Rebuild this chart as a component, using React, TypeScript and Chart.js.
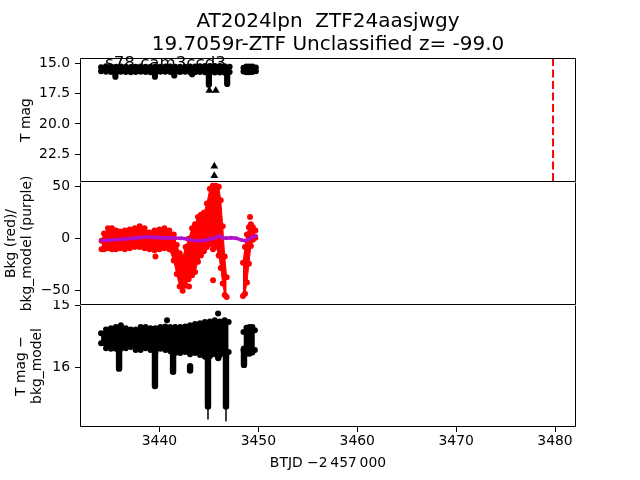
import React, { useEffect, useRef } from "react";
import { Chart, registerables } from "chart.js";

Chart.register(...registerables);

const FONT = "DejaVu Sans";

// ---------- text ----------
const TITLE_LINES = ["AT2024lpn  ZTF24aasjwgy", "19.7059r-ZTF Unclassified z= -99.0"];
const PANEL_LABEL = "s78 cam3ccd3";
const Y1_TITLE = "T mag";
const Y2_TITLE = ["Bkg (red)/", "bkg_model (purple)"];
const Y3_TITLE = ["T mag \u2212", "bkg_model"];
const X_TITLE = "BTJD \u22122\u2009457\u2009000";

// ---------- axes ----------
const X_RANGE = [3431.97, 3482.12];
const X_TICKS = [3440, 3450, 3460, 3470, 3480];
const Y1_RANGE = [14.56, 24.79];
const Y1_TICKS = [15, 17.5, 20, 22.5];
const Y2_RANGE = [-63.7, 54.6];
const Y2_TICKS = [-50, 0, 50];
const Y3_RANGE = [14.995, 16.96];
const Y3_TICKS = [15, 16];

// ---------- top panel: T mag ----------
const magBandTime = [3434.1, 3434.6, 3435.1, 3435.6, 3436.1, 3436.6, 3437.1, 3437.6, 3438.1, 3438.6, 3439.1, 3439.6, 3440.1, 3440.6, 3441.1, 3441.6, 3442.1, 3442.6, 3443.1, 3443.6, 3444.1, 3444.6, 3445.1, 3445.6, 3446.1, 3446.6, 3447.1];
const magBandHi = [15.33, 15.25, 15.26, 15.28, 15.27, 15.29, 15.30, 15.28, 15.26, 15.28, 15.29, 15.27, 15.28, 15.26, 15.27, 15.28, 15.29, 15.28, 15.27, 15.26, 15.25, 15.23, 15.22, 15.23, 15.22, 15.24, 15.28];
const magBandLo = [15.65, 15.70, 15.72, 15.75, 15.70, 15.71, 15.73, 15.72, 15.69, 15.71, 15.74, 15.73, 15.70, 15.69, 15.72, 15.74, 15.71, 15.70, 15.74, 15.73, 15.71, 15.74, 15.78, 15.75, 15.76, 15.78, 15.72];
const magClusterTime = [3448.5, 3448.8, 3449.1, 3449.4, 3449.75];
const magClusterHi = [15.36, 15.27, 15.26, 15.27, 15.35];
const magClusterLo = [15.68, 15.74, 15.73, 15.72, 15.66];
const magDripTime = [3435.55, 3439.55, 3441.5, 3443.3, 3445.0, 3446.85];
const magDripStart = [15.6, 15.6, 15.6, 15.6, 15.6, 15.6];
const magDripEnd = [16.1, 16.1, 16.0, 15.9, 16.76, 16.7];
const limitTime = [3445.05, 3445.7, 3445.55, 3445.55];
const limitMag = [17.25, 17.25, 23.5, 24.27];
const refLineTime = [3479.8];

// ---------- middle panel: background ----------
const bkgTime = [3434.15, 3434.4, 3434.8, 3435.2, 3435.6, 3436.0, 3436.5, 3437.0, 3437.5, 3438.0, 3438.5, 3439.0, 3439.5, 3440.0, 3440.5, 3441.0, 3441.45, 3441.75, 3442.05, 3442.35, 3442.65, 3442.95, 3443.3, 3443.6, 3443.9, 3444.2, 3444.5, 3444.8, 3445.1, 3445.4, 3445.7, 3446.0, 3446.2, 3446.4, 3446.6, 3446.8];
const bkgHi = [-2, 5, 10, 10, 8, 7, 8, 9, 10, 12, 10, 6, 8, 9, 10, 8, 4, -6, -14, -18, -8, 0, 10, 14, 21, 23, 25, 34, 48, 51, 51, 50, 37, 12, -17, -37];
const bkgLo = [-10, -10, -9, -10, -10, -9, -10, -9, -8, -8, -9, -10, -11, -10, -9, -10, -21, -34, -46, -50, -45, -39, -35, -32, -22, -16, -12, -8, -5, -5, -7, -16, -28, -43, -54, -56];
const bkgClusterTime = [3448.45, 3448.65, 3448.85, 3449.05, 3449.25, 3449.45, 3449.7];
const bkgClusterHi = [-23, -8, 4, 11, 14, 11, 8];
const bkgClusterLo = [-55, -53, -42, -24, -7, -1, 1];
const bkgDotTime = [3439.6, 3442.99, 3445.42, 3445.42, 3449.16];
const bkgDotVal = [-17, -46, -10, -40, 21];
const modelTime = [3434.10, 3434.60, 3435.11, 3435.61, 3436.12, 3436.62, 3437.13, 3437.64, 3438.14, 3438.65, 3439.15, 3439.66, 3440.16, 3440.67, 3441.17, 3441.68, 3442.18, 3442.69, 3443.20, 3443.70, 3444.21, 3444.71, 3445.22, 3445.72, 3446.03, 3446.33, 3446.73, 3447.24, 3447.75, 3448.25, 3448.66, 3449.06, 3449.46, 3449.77];
const modelVal = [-1.8, -1.5, -1.2, -0.8, -0.5, 0, 0.3, 0.8, 1.2, 1.8, 1.5, 1.2, 1.0, 0.8, 1.0, 0.6, 0.5, 0, -1.0, -2.0, -1.8, -1.2, 0, 1.0, 3.0, 1.0, 0.5, 1.0, 0.5, -1.0, -1.8, -0.5, 2.0, 2.8];

// ---------- bottom panel: T mag - bkg_model ----------
const diffBandTime = [3434.1, 3434.6, 3435.1, 3435.6, 3436.1, 3436.6, 3437.1, 3437.6, 3438.1, 3438.6, 3439.1, 3439.6, 3440.1, 3440.6, 3441.1, 3441.6, 3442.1, 3442.6, 3443.1, 3443.6, 3444.1, 3444.6, 3445.1, 3445.6, 3446.1, 3446.6, 3447.0];
const diffHi = [15.45, 15.39, 15.37, 15.35, 15.32, 15.37, 15.39, 15.39, 15.35, 15.35, 15.37, 15.37, 15.35, 15.34, 15.35, 15.35, 15.35, 15.34, 15.32, 15.30, 15.29, 15.27, 15.26, 15.24, 15.26, 15.24, 15.27];
const diffLo = [15.61, 15.69, 15.70, 15.70, 15.70, 15.69, 15.67, 15.72, 15.72, 15.69, 15.72, 15.75, 15.70, 15.72, 15.74, 15.77, 15.77, 15.75, 15.79, 15.77, 15.80, 15.83, 15.82, 15.79, 15.80, 15.79, 15.75];
const diffClusterTime = [3448.5, 3448.8, 3449.1, 3449.4, 3449.65];
const diffClusterHi = [15.43, 15.36, 15.35, 15.35, 15.40];
const diffClusterLo = [15.72, 15.78, 15.78, 15.76, 15.72];
const diffDripTime = [3435.92, 3439.55, 3441.38, 3443.1, 3444.91, 3445.95, 3446.73, 3448.55];
const diffDripStart = [15.65, 15.7, 15.7, 15.98, 15.75, 15.75, 15.75, 15.7];
const diffDripEnd = [16.02, 16.30, 16.07, 16.05, 16.63, 15.85, 16.63, 15.96];
const diffErrTime = [3444.91, 3446.73];
const diffErrTop = [16.5, 16.5];
const diffErrBottom = [16.83, 16.86];
const diffDotTime = [3440.77, 3445.93];
const diffDotVal = [15.24, 15.13];

// ---------- helpers ----------
const BLACK = "#000000";
const RED = "#ff0000";
const PURPLE = "#b010c8";
const R = 3;

const xy = (t: number[], v: number[]) => t.map((x, i) => ({ x, y: v[i] }));
const segs = (t: number[], a: number[], b: number[]) =>
  t.flatMap((x, i) => [{ x, y: a[i] }, { x, y: b[i] }, { x, y: null as any }]);

const band = (t: number[], hi: number[], lo: number[], color: string, order: number) => [
  { data: xy(t, hi), showLine: true, borderColor: color, backgroundColor: color, borderWidth: 1, pointRadius: R, pointBorderWidth: 0, pointBackgroundColor: color, fill: "+1", order },
  { data: xy(t, lo), showLine: true, borderColor: color, backgroundColor: color, borderWidth: 1, pointRadius: R, pointBorderWidth: 0, pointBackgroundColor: color, fill: false, order },
];
const drips = (t: number[], a: number[], b: number[], color: string, width: number, order: number) => ({
  data: segs(t, a, b), showLine: true, spanGaps: false, borderColor: color, borderWidth: width, borderCapStyle: "round", pointRadius: 0, fill: false, order,
});
const dots = (t: number[], v: number[], color: string, order: number, style = "circle", r = R) => ({
  data: xy(t, v), showLine: false, pointStyle: style, pointRadius: r, pointBorderWidth: 0, pointBackgroundColor: color, backgroundColor: color, borderColor: color, order,
});

const tickFont = { family: FONT, size: 13.9 };
const tickGrid = { display: true, drawOnChartArea: false, drawTicks: true, tickLength: 5, tickColor: BLACK, tickWidth: 1, color: BLACK };

const yScale = (range: number[], ticks: number[], reverse: boolean, title: any, pad: number, fmt: (v: number) => string) => ({
  type: "linear", position: "left", min: range[0], max: range[1], reverse,
  afterFit: (s: any) => { s.width = 80; s.paddingTop = 0; s.paddingBottom = 0; },
  afterBuildTicks: (s: any) => { s.ticks = ticks.map((value) => ({ value })); },
  ticks: { font: tickFont, color: BLACK, padding: 5, autoSkip: false, callback: (v: any) => fmt(Number(v)) },
  grid: tickGrid,
  border: { display: false },
  title: { display: true, text: title, color: BLACK, font: tickFont, padding: { top: pad, bottom: 0 } },
});
const xScale = (show: boolean) => ({
  type: "linear", position: "bottom", min: X_RANGE[0], max: X_RANGE[1], display: show,
  afterFit: (s: any) => { s.height = show ? 53 : 0; s.paddingLeft = 0; s.paddingRight = 0; },
  afterBuildTicks: (s: any) => { s.ticks = X_TICKS.map((value) => ({ value })); },
  ticks: { font: tickFont, color: BLACK, padding: 1, autoSkip: false, maxRotation: 0, callback: (v: any) => String(v) },
  grid: tickGrid,
  border: { display: false },
  title: { display: show, text: X_TITLE, color: BLACK, font: tickFont, padding: { top: 0, bottom: 8.7 } },
});

const frame = (drawTop: boolean) => ({
  id: "frame",
  afterDatasetsDraw(chart: any) {
    const { ctx, chartArea: a } = chart;
    const l = Math.round(a.left) + 0.5, r = Math.round(a.right) - 0.5;
    const t = Math.round(a.top) + 0.5, b = Math.round(a.bottom) - 0.5;
    ctx.save();
    ctx.strokeStyle = BLACK;
    ctx.lineWidth = 1;
    ctx.beginPath();
    if (drawTop) { ctx.moveTo(l, t); ctx.lineTo(r, t); }
    ctx.moveTo(r, t); ctx.lineTo(r, b); ctx.lineTo(l, b); ctx.lineTo(l, t);
    ctx.stroke();
    ctx.restore();
  },
});

const texts = {
  id: "texts",
  afterDraw(chart: any) {
    const { ctx, chartArea: a } = chart;
    ctx.save();
    ctx.fillStyle = BLACK;
    ctx.textBaseline = "alphabetic";
    ctx.textAlign = "center";
    ctx.font = `20px "${FONT}"`;
    const cx = (a.left + a.right) / 2;
    TITLE_LINES.forEach((s, i) => ctx.fillText(s, cx, 27 + i * 23));
    ctx.textAlign = "left";
    ctx.font = `16.67px "${FONT}"`;
    ctx.fillText(PANEL_LABEL, a.left + 25, a.top + 10);
    ctx.restore();
  },
};

const make = (canvas: HTMLCanvasElement, datasets: any[], scales: any, padding: any, plugins: any[]) =>
  new Chart(canvas, {
    type: "line",
    data: { datasets },
    options: {
      responsive: false,
      animation: false,
      events: [],
      layout: { padding },
      scales,
      elements: { line: { tension: 0 } },
      plugins: { legend: { display: false }, tooltip: { enabled: false }, title: { display: false } },
    } as any,
    plugins,
  } as any);

export default function App() {
  const c1 = useRef<HTMLCanvasElement>(null);
  const c2 = useRef<HTMLCanvasElement>(null);
  const c3 = useRef<HTMLCanvasElement>(null);

  useEffect(() => {
    const top = make(
      c1.current!,
      [
        ...band(magBandTime, magBandHi, magBandLo, BLACK, 3),
        ...band(magClusterTime, magClusterHi, magClusterLo, BLACK, 3),
        drips(magDripTime, magDripStart, magDripEnd, BLACK, 6.2, 3),
        dots(limitTime, limitMag, BLACK, 1, "triangle", 4.5),
        {
          data: [{ x: refLineTime[0], y: Y1_RANGE[0] }, { x: refLineTime[0], y: Y1_RANGE[1] }],
          showLine: true, borderColor: RED, borderWidth: 2, borderDash: [8, 3.5], pointRadius: 0, fill: false, order: 0,
        },
      ],
      { x: xScale(false), y: yScale(Y1_RANGE, Y1_TICKS, true, Y1_TITLE, 18, (v) => v.toFixed(1)) },
      { left: 0, right: 64, top: 58, bottom: 5 },
      [frame(true), texts]
    );

    const mid = make(
      c2.current!,
      [
        ...band(bkgTime, bkgHi, bkgLo, RED, 2),
        ...band(bkgClusterTime, bkgClusterHi, bkgClusterLo, RED, 2),
        dots(bkgDotTime, bkgDotVal, RED, 2),
        { data: xy(modelTime, modelVal), showLine: true, borderColor: PURPLE, borderWidth: 3.4, pointRadius: 1.9, pointBorderWidth: 0, pointBackgroundColor: PURPLE, fill: false, order: 0 },
      ],
      { x: xScale(false), y: yScale(Y2_RANGE, Y2_TICKS, false, Y2_TITLE, 2.7, (v) => (v < 0 ? "\u2212" + Math.abs(v) : String(v))) },
      { left: 0, right: 64, top: 5, bottom: 5 },
      [frame(false)]
    );

    const bot = make(
      c3.current!,
      [
        ...band(diffBandTime, diffHi, diffLo, BLACK, 3),
        ...band(diffClusterTime, diffClusterHi, diffClusterLo, BLACK, 3),
        drips(diffDripTime, diffDripStart, diffDripEnd, BLACK, 6.4, 3),
        drips(diffErrTime, diffErrTop, diffErrBottom, BLACK, 1.5, 3),
        dots(diffDotTime, diffDotVal, BLACK, 3),
      ],
      { x: xScale(true), y: yScale(Y3_RANGE, Y3_TICKS, true, Y3_TITLE, 12.7, (v) => String(v)) },
      { left: 0, right: 64, top: 5, bottom: 0 },
      [frame(false)]
    );

    return () => {
      top.destroy();
      mid.destroy();
      bot.destroy();
    };
  }, []);

  const cs = (t: number, h: number): React.CSSProperties => ({ position: "absolute", left: 0, top: t, width: 640, height: h, display: "block" });

  return (
    <div style={{ position: "fixed", left: 0, top: 0, width: 640, height: 480, background: "#ffffff", overflow: "hidden" }}>
      <canvas ref={c1} width={640} height={187} style={cs(0, 187)} />
      <canvas ref={c2} width={640} height={133} style={cs(177, 133)} />
      <canvas ref={c3} width={640} height={180} style={cs(300, 180)} />
    </div>
  );
}
